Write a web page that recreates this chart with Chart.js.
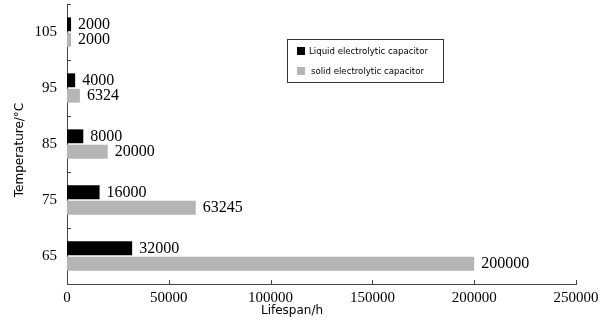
<!DOCTYPE html>
<html>
<head>
<meta charset="utf-8">
<script src="https://cdn.jsdelivr.net/npm/chart.js@4"></script>
<style>
  html, body { margin: 0; padding: 0; background: #fff; }
</style>
</head>
<body>
<canvas id="lifeChart" width="600" height="324"></canvas>
<script>
// temperatures top to bottom
const temperatures = ['105', '95', '85', '75', '65'];
const liquidLife = [2000, 4000, 8000, 16000, 32000];
const solidLife = [2000, 6324, 20000, 63245, 200000];
const seriesNames = ['Liquid electrolytic capacitor', 'solid electrolytic capacitor'];
const xTicks = [0, 50000, 100000, 150000, 200000, 250000];

const serif = '"Liberation Serif", "Times New Roman", serif';
const sans = '"DejaVu Sans", sans-serif';

// value labels next to the bar ends
const valueLabels = {
    id: 'valueLabels',
    afterDatasetsDraw(chart) {
        const ctx = chart.ctx;
        ctx.save();
        ctx.font = '16px ' + serif;
        ctx.fillStyle = '#000';
        ctx.textBaseline = 'middle';
        ctx.textAlign = 'left';
        chart.data.datasets.forEach((ds, i) => {
            chart.getDatasetMeta(i).data.forEach((bar, j) => {
                ctx.fillText(String(ds.data[j]), bar.x + 7, bar.y);
            });
        });
        ctx.restore();
    }
};

// inward tick marks, axis titles and the boxed legend
const decorations = {
    id: 'decorations',
    afterDraw(chart) {
        const ctx = chart.ctx;
        const area = chart.chartArea;
        const x = chart.scales.x;
        ctx.save();
        ctx.strokeStyle = '#444';
        ctx.lineWidth = 1;
        ctx.beginPath();
        x.ticks.forEach(t => {
            const px = Math.round(x.getPixelForValue(t.value)) + 0.5;
            ctx.moveTo(px, area.bottom);
            ctx.lineTo(px, area.bottom - 4);
        });
        const n = temperatures.length;
        for (let i = 0; i <= n; i++) {
            const py = Math.round(area.top + i * (area.bottom - area.top) / n) + 0.5;
            ctx.moveTo(area.left, py);
            ctx.lineTo(area.left + 4, py);
        }
        ctx.stroke();

        // axis titles
        ctx.fillStyle = '#000';
        ctx.font = '12px ' + sans;
        ctx.textAlign = 'center';
        ctx.textBaseline = 'middle';
        ctx.fillText('Lifespan/h', 292, 311);
        ctx.save();
        ctx.translate(20, 150);
        ctx.rotate(-Math.PI / 2);
        ctx.fillText('Temperature/°C', 0, 0);
        ctx.restore();

        // legend
        ctx.strokeStyle = '#333';
        ctx.strokeRect(287.5, 39.5, 156, 43);
        ctx.font = '8.6px ' + sans;
        ctx.textAlign = 'left';
        chart.data.datasets.forEach((ds, i) => {
            const y = 47 + i * 20;
            ctx.fillStyle = ds.backgroundColor;
            ctx.fillRect(297, y, 8, 8);
            ctx.fillStyle = '#000';
            ctx.fillText(ds.label, 309 + i * 2, y + 4.5);
        });
        ctx.restore();
    }
};

new Chart(document.getElementById('lifeChart'), {
    type: 'bar',
    data: {
        labels: temperatures,
        datasets: [{
            label: seriesNames[0],
            data: liquidLife,
            backgroundColor: '#000000',
            categoryPercentage: 0.55,
            barPercentage: 0.9
        }, {
            label: seriesNames[1],
            data: solidLife,
            backgroundColor: '#b5b5b5',
            categoryPercentage: 0.55,
            barPercentage: 0.9
        }]
    },
    options: {
        indexAxis: 'y',
        responsive: false,
        animation: false,
        layout: { padding: { top: 4, right: 24, left: 0, bottom: 0 } },
        plugins: {
            legend: { display: false },
            tooltip: { enabled: false }
        },
        scales: {
            x: {
                type: 'linear',
                min: 0,
                max: 250000,
                afterBuildTicks: s => { s.ticks = xTicks.map(v => ({ value: v })); },
                ticks: {
                    font: { family: serif, size: 15 },
                    color: '#000',
                    padding: 5,
                    maxRotation: 0,
                    callback: v => String(v)
                },
                grid: { display: false, drawTicks: false },
                border: { display: true, color: '#444' },
                afterFit: s => {
                    s.height = 40;
                    s.paddingLeft = 0;
                    s.paddingRight = 0;
                }
            },
            y: {
                ticks: {
                    font: { family: serif, size: 15 },
                    color: '#000',
                    padding: 10
                },
                grid: { display: false, drawTicks: false },
                border: { display: true, color: '#444' },
                afterFit: s => {
                    s.width = 67;
                    s.paddingTop = 0;
                    s.paddingBottom = 0;
                }
            }
        }
    },
    plugins: [valueLabels, decorations]
});
</script>
</body>
</html>
